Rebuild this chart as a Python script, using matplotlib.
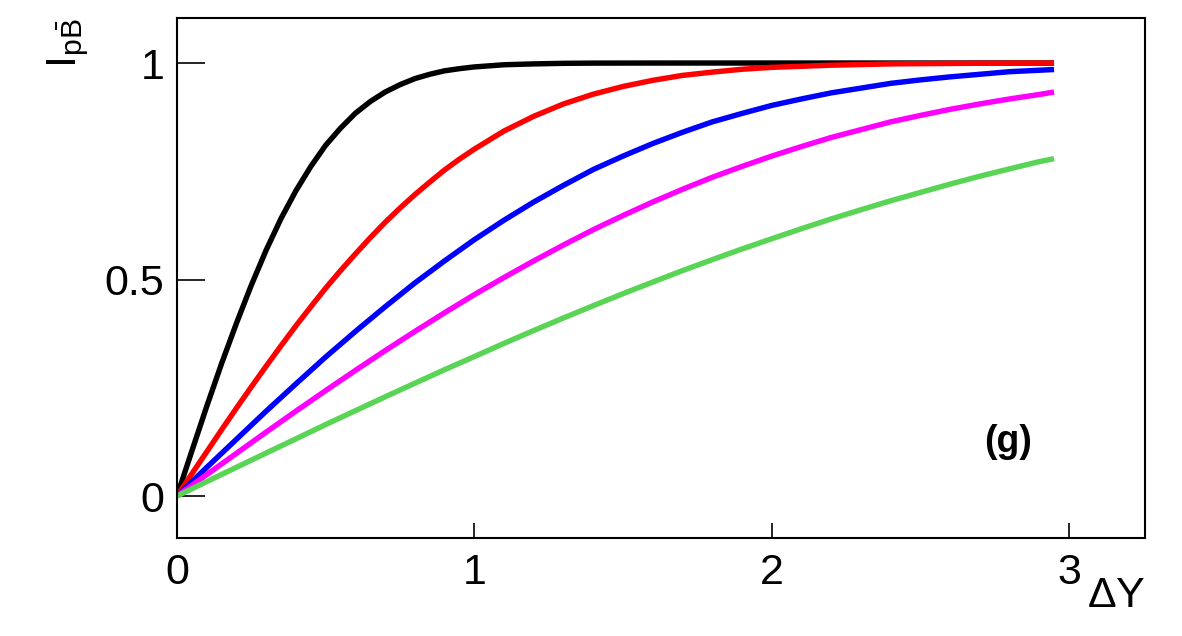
import matplotlib
matplotlib.use("Agg")
import matplotlib.pyplot as plt

plt.rcParams['font.family'] = ['Liberation Sans', 'DejaVu Sans']
plt.rcParams['mathtext.fontset'] = 'custom'
plt.rcParams['mathtext.rm'] = 'Liberation Sans'
plt.rcParams['mathtext.it'] = 'Liberation Sans:italic'
plt.rcParams['mathtext.bf'] = 'Liberation Sans:bold'

# ---- data ----
x_black = [0.0, 0.05, 0.1, 0.15, 0.2, 0.25, 0.3, 0.35, 0.4, 0.45, 0.5, 0.55, 0.6, 0.65,
           0.7, 0.75, 0.8, 0.85, 0.9, 0.95, 1.0, 1.1, 1.2, 1.3, 1.4, 1.6, 2.0, 2.5, 2.95]
y_black = [0.0, 0.104, 0.207, 0.306, 0.399, 0.487, 0.568, 0.641, 0.705, 0.761, 0.810,
           0.8495, 0.884, 0.911, 0.933, 0.950, 0.964, 0.974, 0.982, 0.987, 0.991, 0.996,
           0.998, 0.9993, 0.9998, 1.0, 1.0, 1.0, 1.0]

x_red = [0.0, 0.05, 0.1, 0.15, 0.2, 0.25, 0.3, 0.35, 0.4, 0.45, 0.5, 0.55, 0.6, 0.65,
         0.7, 0.75, 0.8, 0.85, 0.9, 0.95, 1.0, 1.1, 1.2, 1.3, 1.4, 1.5, 1.6, 1.7, 1.8,
         1.9, 2.0, 2.2, 2.4, 2.7, 2.95]
y_red = [0.0, 0.0513, 0.102, 0.153, 0.203, 0.252, 0.300, 0.347, 0.393, 0.437, 0.480,
         0.5205, 0.559, 0.5965, 0.632, 0.665, 0.696, 0.725, 0.753, 0.778, 0.801, 0.843,
         0.877, 0.9055, 0.928, 0.9458, 0.960, 0.9714, 0.979, 0.9856, 0.990, 0.995, 0.998,
         0.9995, 1.0]

x_blue = [0.0, 0.1, 0.2, 0.3, 0.4, 0.5, 0.6, 0.7, 0.8, 0.9, 1.0, 1.1, 1.2, 1.3, 1.4, 1.5,
          1.6, 1.7, 1.8, 1.9, 2.0, 2.1, 2.2, 2.3, 2.4, 2.5, 2.6, 2.7, 2.8, 2.95]
y_blue = [0.0, 0.066, 0.131, 0.196, 0.259, 0.321, 0.380, 0.437, 0.492, 0.543, 0.592,
          0.637, 0.679, 0.7175, 0.754, 0.785, 0.814, 0.840, 0.864, 0.8835, 0.902, 0.917,
          0.931, 0.942, 0.953, 0.961, 0.968, 0.974, 0.980, 0.985]

x_magenta = [0.0, 0.1, 0.2, 0.3, 0.4, 0.5, 0.6, 0.7, 0.8, 0.9, 1.0, 1.1, 1.2, 1.3, 1.4,
             1.5, 1.6, 1.7, 1.8, 1.9, 2.0, 2.1, 2.2, 2.3, 2.4, 2.5, 2.6, 2.7, 2.8, 2.9, 2.95]
y_magenta = [0.0, 0.0494, 0.0986, 0.1476, 0.196, 0.2434, 0.290, 0.3357, 0.380, 0.4232,
             0.465, 0.5047, 0.543, 0.5797, 0.615, 0.6477, 0.679, 0.7083, 0.736, 0.7611,
             0.785, 0.807, 0.828, 0.846, 0.864, 0.8789, 0.893, 0.9055, 0.917, 0.9273, 0.933]

x_green = [0.0, 0.1, 0.2, 0.3, 0.4, 0.5, 0.6, 0.7, 0.8, 0.9, 1.0, 1.1, 1.2, 1.3, 1.4, 1.5,
           1.6, 1.7, 1.8, 1.9, 2.0, 2.1, 2.2, 2.3, 2.4, 2.5, 2.6, 2.7, 2.8, 2.9, 2.95]
y_green = [0.0, 0.0332, 0.0663, 0.0993, 0.132, 0.165, 0.197, 0.229, 0.2605, 0.2917, 0.322,
           0.3525, 0.3822, 0.4112, 0.4395, 0.4672, 0.494, 0.5205, 0.5457, 0.5704, 0.594,
           0.6173, 0.6398, 0.661, 0.6817, 0.701, 0.7203, 0.7385, 0.7555, 0.7722, 0.779]

x_ticks = [0, 1, 2, 3]
x_ticklabels = ['0', '1', '2', '3']
y_ticks = [0, 0.5, 1]
y_ticklabels = ['0', '0.5', '1']

series = [
    (x_black, y_black, '#000000'),
    (x_red, y_red, '#ff0000'),
    (x_blue, y_blue, '#0000ff'),
    (x_magenta, y_magenta, '#ff00ff'),
    (x_green, y_green, '#59d454'),
]

fig = plt.figure(figsize=(11.82, 6.36), dpi=100)
ax = fig.add_axes([177 / 1182, 1 - 538 / 636, (1145 - 177) / 1182, (538 - 18) / 636])

for xs, ys, c in series:
    ax.plot(xs, ys, color=c, lw=3.9, solid_capstyle='butt', solid_joinstyle='round')

ax.set_xlim(0, 3.256)
ax.set_ylim(-0.097, 1.104)
ax.set_xticks(x_ticks)
ax.set_xticklabels(x_ticklabels)
ax.set_yticks(y_ticks)
ax.set_yticklabels(y_ticklabels)
ax.tick_params(axis='both', direction='in', labelsize=31, width=1.2, color='black')
ax.tick_params(axis='y', length=20, pad=9)
ax.tick_params(axis='x', length=10.5, pad=11)
for s in ax.spines.values():
    s.set_linewidth(1.5)

ax.text(2.795, 0.125, '(g)', fontsize=27, fontweight='bold', ha='center', va='center')

fig.text(1145 / 1182, 1 - 607 / 636, r'$\Delta$Y', fontsize=31, ha='right', va='baseline')
fig.text(45 / 1182, 1 - 18 / 636, r'$\mathrm{I}_{\mathrm{p}\bar{\mathrm{B}}}$', fontsize=31,
         rotation=90, ha='left', va='top')

fig.savefig('out.png', dpi=100)
